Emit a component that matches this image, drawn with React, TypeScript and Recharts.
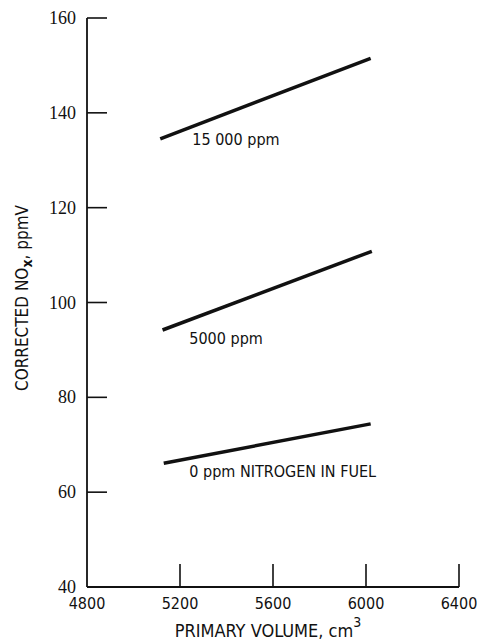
import { LineChart, Line, XAxis, YAxis, ReferenceDot } from 'recharts';

const volumeTicks = [4800, 5200, 5600, 6000, 6400];
const noxTicks = [40, 60, 80, 100, 120, 140, 160];

// primary volume (cm3) vs corrected NOx (ppmV)
const volume15000 = [5115, 6020];
const nox15000 = [134.5, 151.5];
const volume5000 = [5125, 6025];
const nox5000 = [94.2, 110.8];
const volume0 = [5130, 6020];
const nox0 = [66.1, 74.4];

const curveLabels = ['15 000 ppm', '5000 ppm', '0 ppm NITROGEN IN FUEL'];
const labelVolume = [5253, 5240, 5240];
const labelNox = [134.3, 92.5, 64.3];

const toPoints = (vol: number[], nox: number[]) => vol.map((v, i) => ({ volume: v, nox: nox[i] }));

const curves = [
  { key: 'n15000', data: toPoints(volume15000, nox15000) },
  { key: 'n5000', data: toPoints(volume5000, nox5000) },
  { key: 'n0', data: toPoints(volume0, nox0) },
];

const W = 477;
const H = 643;
const PLOT_LEFT = 87;
const PLOT_BOTTOM = 587;
const INK = '#111';
const SANS = '"DejaVu Sans Condensed", "DejaVu Sans", sans-serif';
const SERIF = '"Liberation Serif", serif';

const YTick = (props: any) => {
  const { y, payload } = props;
  return (
    <g>
      {payload.value !== 40 && (
        <line x1={PLOT_LEFT} x2={PLOT_LEFT + 20} y1={y} y2={y} stroke={INK} strokeWidth={1.6} />
      )}
      <text x={76} y={y} textAnchor="end" dominantBaseline="central" fontFamily={SERIF} fontSize={18} fill={INK}>
        {payload.value}
      </text>
    </g>
  );
};

const XTick = (props: any) => {
  const { x, payload } = props;
  return (
    <g>
      {payload.value !== 4800 && (
        <line x1={x} x2={x} y1={PLOT_BOTTOM} y2={PLOT_BOTTOM - 23} stroke={INK} strokeWidth={1.6} />
      )}
      <text x={x} y={603} textAnchor="middle" dominantBaseline="central" fontFamily={SANS} fontSize={16} fill={INK}>
        {payload.value}
      </text>
    </g>
  );
};

const yTitle = () => (
  <text
    x={22}
    y={298}
    transform="rotate(-90 22 298)"
    textAnchor="middle"
    dominantBaseline="central"
    fontFamily={SANS}
    fontSize={17}
    fill={INK}
  >
    CORRECTED NO
    <tspan dy={5} fontSize={14} fontWeight="bold">x</tspan>
    <tspan dy={-5}>, ppmV</tspan>
  </text>
);

const xTitle = () => (
  <text x={268} y={630} textAnchor="middle" dominantBaseline="central" fontFamily={SANS} fontSize={18} fill={INK}>
    PRIMARY VOLUME, cm
    <tspan dy={-8} fontSize={14}>3</tspan>
  </text>
);

const curveLabel = (text: string) => (props: any) => {
  const { viewBox } = props;
  const cx = viewBox.x + viewBox.width / 2;
  const cy = viewBox.y + viewBox.height / 2;
  return (
    <text x={cx} y={cy} textAnchor="start" dominantBaseline="central" fontFamily={SANS} fontSize={16} fill={INK}>
      {text}
    </text>
  );
};

export default function App() {
  return (
    <div style={{ position: 'absolute', left: 0, top: 0, width: W, height: H, background: '#fff' }}>
      <LineChart width={W} height={H} margin={{ top: 18, right: 18, bottom: 0, left: 0 }}>
        <XAxis
          type="number"
          dataKey="volume"
          domain={[4800, 6400]}
          ticks={volumeTicks}
          allowDataOverflow
          height={56}
          axisLine={{ stroke: INK, strokeWidth: 1.8 }}
          tickLine={false}
          tick={<XTick />}
          interval={0}
          label={xTitle}
        />
        <YAxis
          type="number"
          dataKey="nox"
          domain={[40, 160]}
          ticks={noxTicks}
          allowDataOverflow
          width={PLOT_LEFT}
          axisLine={{ stroke: INK, strokeWidth: 1.8 }}
          tickLine={false}
          tick={<YTick />}
          interval={0}
          label={yTitle}
        />
        {curves.map((c) => (
          <Line
            key={c.key}
            data={c.data}
            dataKey="nox"
            type="linear"
            stroke={INK}
            strokeWidth={3.5}
            dot={false}
            activeDot={false}
            isAnimationActive={false}
          />
        ))}
        {curveLabels.map((t, i) => (
          <ReferenceDot
            key={t}
            x={labelVolume[i]}
            y={labelNox[i]}
            r={1}
            fill="none"
            stroke="none"
            label={curveLabel(t)}
          />
        ))}
      </LineChart>
    </div>
  );
}
